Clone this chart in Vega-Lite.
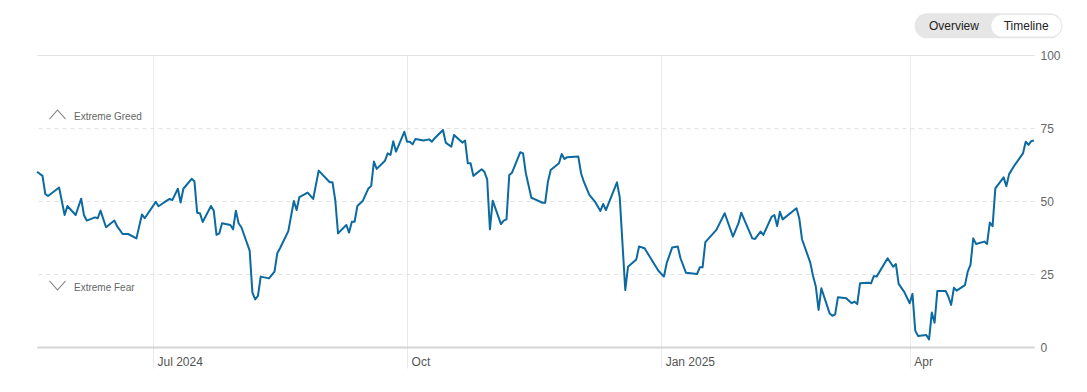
{
  "$schema": "https://vega.github.io/schema/vega-lite/v6.json",
  "width": 997,
  "height": 292,
  "autosize": {"type": "none"},
  "padding": {"left": 37, "top": 55, "right": 53, "bottom": 45},
  "background": "white",
  "config": {"view": {"stroke": null}, "font": "Liberation Sans"},
  "datasets": {
    "fg": [
      {"date": "2024-05-20", "value": 60.0}, {"date": "2024-05-22", "value": 58.6}, {"date": "2024-05-23", "value": 52.4}, {"date": "2024-05-24", "value": 51.7},
      {"date": "2024-05-28", "value": 54.6}, {"date": "2024-05-30", "value": 45.2}, {"date": "2024-05-31", "value": 48.3}, {"date": "2024-06-03", "value": 45.2},
      {"date": "2024-06-05", "value": 50.8}, {"date": "2024-06-06", "value": 45.2}, {"date": "2024-06-07", "value": 43.3}, {"date": "2024-06-10", "value": 44.4},
      {"date": "2024-06-11", "value": 44.1}, {"date": "2024-06-12", "value": 46.7}, {"date": "2024-06-14", "value": 41.0}, {"date": "2024-06-17", "value": 43.3},
      {"date": "2024-06-18", "value": 41.4}, {"date": "2024-06-20", "value": 38.7}, {"date": "2024-06-22", "value": 38.7}, {"date": "2024-06-25", "value": 37.2},
      {"date": "2024-06-27", "value": 45.4}, {"date": "2024-06-28", "value": 44.1}, {"date": "2024-07-02", "value": 49.7}, {"date": "2024-07-03", "value": 48.2},
      {"date": "2024-07-05", "value": 49.5}, {"date": "2024-07-07", "value": 50.7}, {"date": "2024-07-08", "value": 50.3}, {"date": "2024-07-10", "value": 54.2},
      {"date": "2024-07-11", "value": 49.5}, {"date": "2024-07-12", "value": 54.2}, {"date": "2024-07-15", "value": 57.6}, {"date": "2024-07-16", "value": 56.8},
      {"date": "2024-07-17", "value": 46.0}, {"date": "2024-07-18", "value": 45.8}, {"date": "2024-07-19", "value": 42.8}, {"date": "2024-07-22", "value": 48.3},
      {"date": "2024-07-23", "value": 46.7}, {"date": "2024-07-24", "value": 38.4}, {"date": "2024-07-25", "value": 38.9}, {"date": "2024-07-26", "value": 42.4},
      {"date": "2024-07-29", "value": 41.8}, {"date": "2024-07-30", "value": 40.3}, {"date": "2024-07-31", "value": 46.7}, {"date": "2024-08-01", "value": 42.4},
      {"date": "2024-08-02", "value": 41.0}, {"date": "2024-08-05", "value": 33.0}, {"date": "2024-08-06", "value": 18.6}, {"date": "2024-08-07", "value": 16.3},
      {"date": "2024-08-08", "value": 17.5}, {"date": "2024-08-09", "value": 24.1}, {"date": "2024-08-12", "value": 23.5}, {"date": "2024-08-14", "value": 25.8},
      {"date": "2024-08-15", "value": 32.1}, {"date": "2024-08-16", "value": 33.8}, {"date": "2024-08-19", "value": 39.7}, {"date": "2024-08-21", "value": 50.0},
      {"date": "2024-08-22", "value": 46.9}, {"date": "2024-08-23", "value": 51.3}, {"date": "2024-08-26", "value": 52.9}, {"date": "2024-08-28", "value": 50.7},
      {"date": "2024-08-30", "value": 60.4}, {"date": "2024-09-03", "value": 56.4}, {"date": "2024-09-04", "value": 56.4}, {"date": "2024-09-05", "value": 50.3},
      {"date": "2024-09-06", "value": 38.9}, {"date": "2024-09-09", "value": 41.8}, {"date": "2024-09-10", "value": 39.2}, {"date": "2024-09-11", "value": 42.9},
      {"date": "2024-09-12", "value": 42.9}, {"date": "2024-09-13", "value": 48.3}, {"date": "2024-09-15", "value": 50.1}, {"date": "2024-09-17", "value": 54.3},
      {"date": "2024-09-18", "value": 55.1}, {"date": "2024-09-19", "value": 63.5}, {"date": "2024-09-20", "value": 61.0}, {"date": "2024-09-23", "value": 63.8},
      {"date": "2024-09-24", "value": 66.3}, {"date": "2024-09-25", "value": 65.8}, {"date": "2024-09-26", "value": 70.5}, {"date": "2024-09-27", "value": 66.9},
      {"date": "2024-09-30", "value": 73.7}, {"date": "2024-10-01", "value": 70.3}, {"date": "2024-10-02", "value": 70.3}, {"date": "2024-10-03", "value": 69.4},
      {"date": "2024-10-04", "value": 71.2}, {"date": "2024-10-07", "value": 70.7}, {"date": "2024-10-09", "value": 71.1}, {"date": "2024-10-10", "value": 70.3},
      {"date": "2024-10-11", "value": 71.5}, {"date": "2024-10-14", "value": 74.3}, {"date": "2024-10-15", "value": 70.0}, {"date": "2024-10-17", "value": 68.6},
      {"date": "2024-10-18", "value": 72.6}, {"date": "2024-10-21", "value": 70.0}, {"date": "2024-10-22", "value": 70.7}, {"date": "2024-10-23", "value": 62.9},
      {"date": "2024-10-24", "value": 62.9}, {"date": "2024-10-25", "value": 58.6}, {"date": "2024-10-28", "value": 60.9}, {"date": "2024-10-29", "value": 60.0},
      {"date": "2024-10-30", "value": 57.4}, {"date": "2024-10-31", "value": 40.3}, {"date": "2024-11-01", "value": 50.1}, {"date": "2024-11-04", "value": 42.1},
      {"date": "2024-11-05", "value": 43.3}, {"date": "2024-11-06", "value": 43.7}, {"date": "2024-11-07", "value": 58.9}, {"date": "2024-11-08", "value": 59.7},
      {"date": "2024-11-11", "value": 66.7}, {"date": "2024-11-12", "value": 66.3}, {"date": "2024-11-13", "value": 59.5}, {"date": "2024-11-15", "value": 51.1},
      {"date": "2024-11-17", "value": 50.3}, {"date": "2024-11-19", "value": 49.4}, {"date": "2024-11-20", "value": 49.4}, {"date": "2024-11-21", "value": 56.6},
      {"date": "2024-11-22", "value": 60.6}, {"date": "2024-11-25", "value": 62.9}, {"date": "2024-11-26", "value": 66.1}, {"date": "2024-11-27", "value": 64.4},
      {"date": "2024-11-28", "value": 65.0}, {"date": "2024-12-02", "value": 65.2}, {"date": "2024-12-03", "value": 59.5}, {"date": "2024-12-04", "value": 56.6},
      {"date": "2024-12-06", "value": 52.1}, {"date": "2024-12-08", "value": 49.8}, {"date": "2024-12-10", "value": 46.6}, {"date": "2024-12-11", "value": 49.0},
      {"date": "2024-12-12", "value": 46.9}, {"date": "2024-12-16", "value": 56.4}, {"date": "2024-12-17", "value": 51.3}, {"date": "2024-12-19", "value": 19.5},
      {"date": "2024-12-20", "value": 27.5}, {"date": "2024-12-23", "value": 30.0}, {"date": "2024-12-24", "value": 34.4}, {"date": "2024-12-26", "value": 33.8},
      {"date": "2024-12-31", "value": 26.1}, {"date": "2025-01-02", "value": 24.1}, {"date": "2025-01-03", "value": 28.7}, {"date": "2025-01-05", "value": 34.1},
      {"date": "2025-01-07", "value": 34.4}, {"date": "2025-01-08", "value": 30.4}, {"date": "2025-01-10", "value": 25.4}, {"date": "2025-01-14", "value": 25.0},
      {"date": "2025-01-15", "value": 27.3}, {"date": "2025-01-16", "value": 27.3}, {"date": "2025-01-17", "value": 35.9}, {"date": "2025-01-21", "value": 40.1},
      {"date": "2025-01-24", "value": 45.8}, {"date": "2025-01-27", "value": 37.8}, {"date": "2025-01-29", "value": 42.4}, {"date": "2025-01-30", "value": 46.0},
      {"date": "2025-02-03", "value": 37.2}, {"date": "2025-02-04", "value": 37.0}, {"date": "2025-02-06", "value": 39.5}, {"date": "2025-02-07", "value": 38.4},
      {"date": "2025-02-10", "value": 44.6}, {"date": "2025-02-11", "value": 45.2}, {"date": "2025-02-12", "value": 41.4}, {"date": "2025-02-13", "value": 46.3},
      {"date": "2025-02-14", "value": 43.7}, {"date": "2025-02-19", "value": 47.5}, {"date": "2025-02-20", "value": 44.1}, {"date": "2025-02-21", "value": 36.9},
      {"date": "2025-02-24", "value": 28.9}, {"date": "2025-02-25", "value": 24.3}, {"date": "2025-02-26", "value": 20.7}, {"date": "2025-02-27", "value": 12.7},
      {"date": "2025-02-28", "value": 20.1}, {"date": "2025-03-03", "value": 11.5}, {"date": "2025-03-04", "value": 10.7}, {"date": "2025-03-05", "value": 11.2},
      {"date": "2025-03-06", "value": 17.0}, {"date": "2025-03-09", "value": 16.7}, {"date": "2025-03-11", "value": 15.0}, {"date": "2025-03-12", "value": 15.5},
      {"date": "2025-03-13", "value": 14.7}, {"date": "2025-03-14", "value": 21.8}, {"date": "2025-03-17", "value": 22.0}, {"date": "2025-03-18", "value": 21.8},
      {"date": "2025-03-19", "value": 24.3}, {"date": "2025-03-20", "value": 24.1}, {"date": "2025-03-24", "value": 30.4}, {"date": "2025-03-26", "value": 27.5},
      {"date": "2025-03-27", "value": 28.4}, {"date": "2025-03-28", "value": 21.6}, {"date": "2025-03-30", "value": 18.9}, {"date": "2025-04-01", "value": 15.0},
      {"date": "2025-04-02", "value": 18.2}, {"date": "2025-04-03", "value": 5.6}, {"date": "2025-04-04", "value": 3.8}, {"date": "2025-04-07", "value": 4.1},
      {"date": "2025-04-08", "value": 2.6}, {"date": "2025-04-09", "value": 11.8}, {"date": "2025-04-10", "value": 8.3}, {"date": "2025-04-11", "value": 19.2},
      {"date": "2025-04-14", "value": 19.2}, {"date": "2025-04-15", "value": 17.2}, {"date": "2025-04-16", "value": 14.4}, {"date": "2025-04-17", "value": 20.3},
      {"date": "2025-04-18", "value": 19.3}, {"date": "2025-04-21", "value": 21.2}, {"date": "2025-04-22", "value": 25.8}, {"date": "2025-04-23", "value": 28.1},
      {"date": "2025-04-24", "value": 37.2}, {"date": "2025-04-25", "value": 35.3}, {"date": "2025-04-28", "value": 36.1}, {"date": "2025-04-29", "value": 35.3},
      {"date": "2025-04-30", "value": 42.6}, {"date": "2025-05-01", "value": 41.4}, {"date": "2025-05-02", "value": 54.3}, {"date": "2025-05-05", "value": 58.1},
      {"date": "2025-05-06", "value": 55.1}, {"date": "2025-05-07", "value": 59.2}, {"date": "2025-05-09", "value": 62.3}, {"date": "2025-05-12", "value": 66.3},
      {"date": "2025-05-13", "value": 70.3}, {"date": "2025-05-14", "value": 69.2}, {"date": "2025-05-15", "value": 70.5}, {"date": "2025-05-16", "value": 70.7}
    ],
    "zones": [
      {"label": "Extreme Greed", "level": 75, "dir": "up"},
      {"label": "Extreme Fear", "level": 25, "dir": "down"}
    ],
    "toggle": [
      {"label": "Overview", "start": "2025-04-07T07:00:00Z", "end": "2025-05-21T18:00:00Z", "center": "2025-04-17T00:00:00Z", "active": false},
      {"label": "Timeline", "start": "2025-05-04T11:00:00Z", "end": "2025-05-22T00:00:00Z", "center": "2025-05-13T04:00:00Z", "active": true}
    ]
  },
  "layer": [
    {
      "data": {"name": "fg"},
      "mark": {"type": "line", "color": "#0b6aa0", "strokeWidth": 2, "strokeJoin": "round", "clip": false},
      "encoding": {
        "x": {
          "field": "date", "type": "temporal",
          "scale": {"type": "utc", "nice": false, "domain": [{"year": 2024, "month": 5, "date": 20, "utc": true}, {"year": 2025, "month": 5, "date": 16, "utc": true}]},
          "axis": {
            "title": null,
            "values": [{"year": 2024, "month": 7, "date": 1, "utc": true}, {"year": 2024, "month": 10, "date": 1, "utc": true}, {"year": 2025, "month": 1, "date": 1, "utc": true}, {"year": 2025, "month": 4, "date": 1, "utc": true}],
            "labelExpr": "utcmonth(datum.value) === 0 || datum.index === 0 ? utcFormat(datum.value, '%b %Y') : utcFormat(datum.value, '%b')",
            "grid": true, "gridColor": "#e9e9e9", "gridWidth": 1,
            "ticks": true, "tickSize": 21, "tickColor": "#e9e9e9", "tickWidth": 1,
            "domain": true, "domainColor": "#d4d4d4", "domainWidth": 2,
            "labelAlign": "left", "labelBaseline": "top", "labelOffset": 4, "labelPadding": -12,
            "labelFontSize": 12, "labelColor": "#555555", "labelFlush": false, "labelOverlap": false
          }
        },
        "y": {
          "field": "value", "type": "quantitative",
          "scale": {"domain": [0, 100], "nice": false, "zero": true},
          "axis": {
            "title": null, "orient": "right", "values": [0, 25, 50, 75, 100],
            "domain": false, "ticks": false, "labelPadding": 6,
            "labelFontSize": 12, "labelColor": "#666666",
            "grid": true,
            "gridColor": {"condition": {"test": "datum.value === 0", "value": "#d4d4d4"}, "value": "#e2e2e2"},
            "gridDash": {"condition": {"test": "datum.value === 100 || datum.value === 0", "value": []}, "value": [4, 4]},
            "gridWidth": 1
          }
        }
      }
    },
    {
      "data": {"name": "zones"},
      "mark": {"type": "point", "filled": false, "size": 256, "stroke": "#7a7a7a", "strokeWidth": 1.1, "opacity": 1},
      "encoding": {
        "x": {"datum": {"year": 2024, "month": 5, "date": 20, "utc": true}, "type": "temporal"},
        "y": {"field": "level", "type": "quantitative"},
        "shape": {
          "field": "dir", "type": "nominal", "legend": null,
          "scale": {"domain": ["up", "down"], "range": ["M1.5625,-1.125L2.5625,-2.25L3.5625,-1.125", "M1.5625,0.875L2.5625,2.0L3.5625,0.875"]}
        }
      }
    },
    {
      "data": {"name": "zones"},
      "transform": [{"filter": "datum.dir === 'up'"}],
      "mark": {"type": "text", "align": "left", "baseline": "middle", "dx": 37, "dy": -11.5, "fontSize": 10, "color": "#666666"},
      "encoding": {
        "x": {"datum": {"year": 2024, "month": 5, "date": 20, "utc": true}, "type": "temporal"},
        "y": {"field": "level", "type": "quantitative"},
        "text": {"field": "label"}
      }
    },
    {
      "data": {"name": "zones"},
      "transform": [{"filter": "datum.dir === 'down'"}],
      "mark": {"type": "text", "align": "left", "baseline": "middle", "dx": 37, "dy": 13.7, "fontSize": 10, "color": "#666666"},
      "encoding": {
        "x": {"datum": {"year": 2024, "month": 5, "date": 20, "utc": true}, "type": "temporal"},
        "y": {"field": "level", "type": "quantitative"},
        "text": {"field": "label"}
      }
    },
    {
      "data": {"name": "toggle"},
      "transform": [{"filter": "!datum.active"}],
      "mark": {"type": "rule", "strokeCap": "round", "strokeWidth": 25, "color": "#e6e6e6", "clip": false},
      "encoding": {
        "x": {"field": "start", "type": "temporal"},
        "x2": {"field": "end"},
        "y": {"datum": 110, "type": "quantitative"}
      }
    },
    {
      "data": {"name": "toggle"},
      "transform": [{"filter": "datum.active"}],
      "mark": {"type": "rule", "strokeCap": "round", "strokeWidth": 21.5, "color": "#ffffff", "clip": false},
      "encoding": {
        "x": {"field": "start", "type": "temporal"},
        "x2": {"field": "end"},
        "y": {"datum": 110, "type": "quantitative"}
      }
    },
    {
      "data": {"name": "toggle"},
      "mark": {"type": "text", "align": "center", "baseline": "middle", "fontSize": 12, "color": "#222222"},
      "encoding": {
        "x": {"field": "center", "type": "temporal"},
        "y": {"datum": 110, "type": "quantitative"},
        "text": {"field": "label"}
      }
    }
  ]
}
